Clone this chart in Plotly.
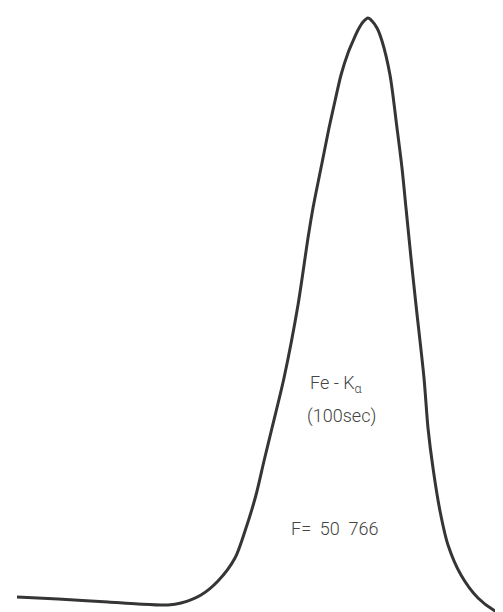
import plotly.graph_objects as go

# Fe-K alpha peak trace (x position, signal height)
position = [9, 50, 100, 130, 160, 173, 193, 210, 227, 238, 248, 256, 264, 276, 290,
            300, 305, 314, 321, 327, 333, 340, 345, 350, 355, 360,
            364, 369, 374, 382, 389, 394, 398, 403, 408, 416, 420, 425, 432, 440,
            453, 470, 487, 503]
signal = [23, 21, 18, 16, 15, 17, 25, 39, 62, 92, 125, 159, 192, 242, 315,
          382, 412, 457, 492, 519, 545, 567, 579, 590, 598, 602,
          599, 592, 579, 545, 492, 452, 412, 362, 315, 242, 192, 152, 109, 75,
          45, 22, 9, 2]

label_name = "Fe - K<sub>α</sub>"
label_time = "(100sec)"
label_area = "F=  50  766"

fig = go.Figure()
fig.add_trace(go.Scatter(
    x=position, y=signal,
    mode="lines",
    line=dict(color="#353535", width=3, shape="spline", smoothing=0.8),
    hoverinfo="skip"
))

text_font = dict(family="Roboto", size=18, weight=300, color="#444444")
fig.add_annotation(x=328, y=236, text=label_name, showarrow=False, font=text_font)
fig.add_annotation(x=333, y=204, text=label_time, showarrow=False, font=text_font)
fig.add_annotation(x=327, y=92, text=label_area, showarrow=False, font=text_font)

fig.update_xaxes(range=[0, 503], visible=False)
fig.update_yaxes(range=[0, 612], visible=False)
fig.update_layout(
    width=503, height=612,
    margin=dict(l=0, r=0, t=0, b=0),
    plot_bgcolor="white", paper_bgcolor="white",
    showlegend=False
)

fig.write_html("out.html")
